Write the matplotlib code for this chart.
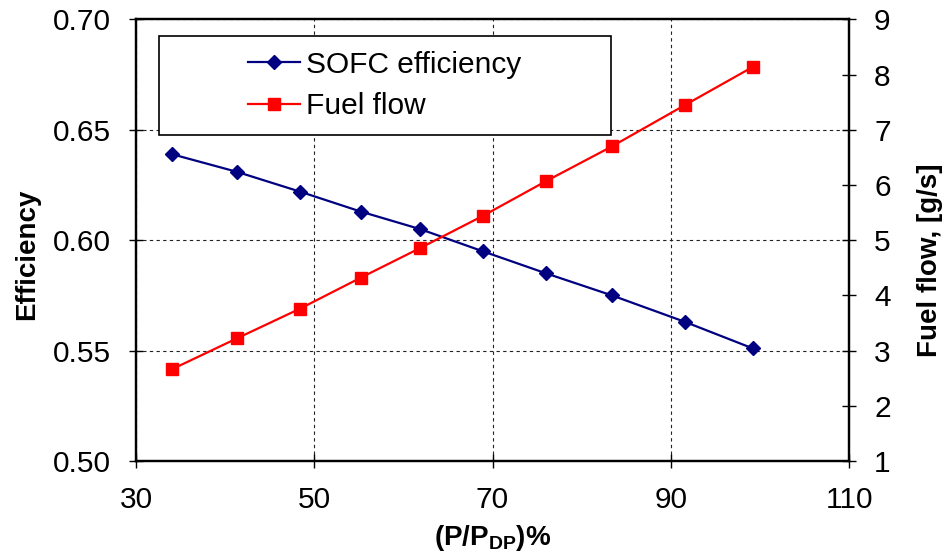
import numpy as np
import matplotlib
matplotlib.use("Agg")
import matplotlib.pyplot as plt
from matplotlib.patches import Rectangle

plt.rcParams['font.family'] = ['Liberation Sans', 'DejaVu Sans']
plt.rcParams['mathtext.fontset'] = 'custom'
plt.rcParams['mathtext.bf'] = 'Liberation Sans:bold'
plt.rcParams['mathtext.default'] = 'bf'

# data
load_pct = [34.0, 41.3, 48.4, 55.2, 61.9, 68.9, 76.0, 83.4, 91.6, 99.2]
efficiency = [0.639, 0.631, 0.622, 0.613, 0.605, 0.595, 0.585, 0.575, 0.563, 0.551]
fuel_flow = [2.66, 3.22, 3.76, 4.32, 4.86, 5.44, 6.07, 6.70, 7.45, 8.14]

x_ticks = [30, 50, 70, 90, 110]
eff_ticks = [0.50, 0.55, 0.60, 0.65, 0.70]
fuel_ticks = [1, 2, 3, 4, 5, 6, 7, 8, 9]

fig = plt.figure(figsize=(9.48, 5.56), dpi=100)
ax = fig.add_axes([0.1435, 0.1709, 0.7521, 0.7941])
ax2 = ax.twinx()

l1, = ax.plot(load_pct, efficiency, color='#000080', marker='D', markersize=7.5,
              linewidth=1.6, label='SOFC efficiency')
l2, = ax2.plot(load_pct, fuel_flow, color='#ff0000', marker='s', markersize=9,
               linewidth=1.6, label='Fuel flow')

ax.set_xlim(30, 110)
ax.set_ylim(0.50, 0.70)
ax2.set_ylim(1, 9)
ax.set_xticks(x_ticks)
ax.set_yticks(eff_ticks)
ax.set_yticklabels(['%.2f' % v for v in eff_ticks])
ax2.set_yticks(fuel_ticks)

ax.grid(True, color='#222222', linestyle=(0, (3, 3)), linewidth=0.8)
ax.set_axisbelow(True)

for a in (ax, ax2):
    for s in a.spines.values():
        s.set_linewidth(1.6)
        s.set_color('black')
    a.tick_params(direction='inout', length=10, width=1, labelsize=21.5, pad=13)

ax.set_xlabel(r'(P/P$_{DP}$)%', fontsize=20, fontweight='bold')
ax.xaxis.set_label_coords(0.5, -0.14)
ax.xaxis.label.set_va('top')
ax.set_ylabel('Efficiency', fontsize=20, fontweight='bold')
ax.yaxis.set_label_coords(-0.153, 0.467)
ax.yaxis.label.set_va('center')
ax2.set_ylabel('Fuel flow, [g/s]', fontsize=20, fontweight='bold')
ax2.yaxis.set_label_coords(1.1136, 0.455)
ax2.yaxis.label.set_va('center')

# legend box
box = Rectangle((0.032, 0.738), 0.634, 0.225, transform=ax2.transAxes,
                facecolor='white', edgecolor='black', linewidth=1.2, zorder=5)
ax2.add_patch(box)
leg = ax2.legend(handles=[l1, l2], loc='center', bbox_to_anchor=(0.349, 0.851),
                 frameon=False, fontsize=21.5, handlelength=1.75,
                 handletextpad=0.2, labelspacing=0.45)
leg.set_zorder(6)

plt.savefig('out.png', dpi=100)
